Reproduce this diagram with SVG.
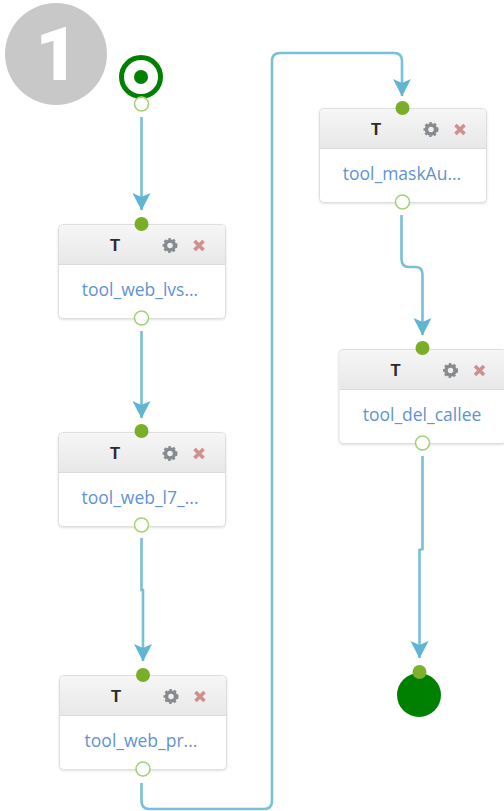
<svg xmlns="http://www.w3.org/2000/svg" width="504" height="811" viewBox="0 0 504 811">
<style>
.card{fill:#fff;stroke:#dedede;stroke-width:1}
.hdr{fill:url(#hg)}
.sep{stroke:#dcdcdc;stroke-width:1}
.t{font:bold 16.500px "Liberation Sans",Arial,sans-serif;fill:#2b2b2b;text-anchor:middle}
.lbl{font:17.500px "Open Sans","Noto Sans",sans-serif;fill:#5f93d3;text-anchor:middle}
.in{fill:#7aad28}
.out{fill:#fff;stroke:#a8d076;stroke-width:1.600}
.c{fill:none;stroke:#78bfd8;stroke-width:2.600}
.gear{fill:none;stroke:#868b8f;stroke-width:3.500}
.gt{fill:none;stroke:#868b8f;stroke-width:2;stroke-dasharray:2.400 2.300}
.x{stroke:#d08f8f;stroke-width:3.600}
</style>
<defs>
<linearGradient id="hg" x1="0" y1="0" x2="0" y2="1"><stop offset="0" stop-color="#f6f6f6"/><stop offset="1" stop-color="#e8e8e8"/></linearGradient>
<filter id="sh" x="-5%" y="-5%" width="110%" height="115%"><feDropShadow dx="0" dy="1" stdDeviation="1" flood-color="#000" flood-opacity=".12"/></filter>
<marker id="ah" markerUnits="userSpaceOnUse" markerWidth="18" markerHeight="19" refX="17" refY="9.500" orient="auto"><path d="M0 .5L17.500 9.500L0 18.500L4 9.500Z" fill="#5fb5d3"/></marker>
<g id="card">
<rect class="card" x=".5" y=".5" width="167" height="94" rx="4" filter="url(#sh)"/>
<path class="hdr" d="M1 40V5Q1 1 5 1H163Q167 1 167 5V40Z"/>
<path class="sep" d="M1 40.500H167"/>
<text class="t" x="57" y="27">T</text>
<circle class="gear" cx="112" cy="21.500" r="4.500"/>
<circle class="gt" cx="112" cy="21.500" r="6.500"/>
<path class="x" d="M136.500 17L145.500 26M145.500 17L136.500 26"/>
</g>
</defs>
<g id="connectors">
<path class="c" marker-end="url(#ah)" d="M141.500 117V210"/>
<path class="c" marker-end="url(#ah)" d="M141.500 331V418"/>
<path class="c" marker-end="url(#ah)" d="M141.500 538V590H143V661"/>
<path class="c" marker-end="url(#ah)" d="M141.500 783V801Q141.500 809 149.500 809H264Q272 809 272 801V61Q272 53 280 53H394Q402 53 402 61V96"/>
<path class="c" marker-end="url(#ah)" d="M401.500 215V259Q401.500 267 409 267H415Q422.500 267 422.500 274V335"/>
<path class="c" marker-end="url(#ah)" d="M422.500 456V549L419.500 550V658"/>
</g>
<g id="badge"><circle cx="56" cy="54" r="51" fill="#c8c8c8"/><text x="57" y="80" font-family="Roboto,Arial,sans-serif" font-weight="900" font-size="75" fill="#fff" text-anchor="middle">1</text></g>
<g id="start"><circle cx="141" cy="77" r="19.500" fill="#fff" stroke="#008000" stroke-width="5"/><circle cx="141" cy="77" r="7" fill="#008000"/><circle class="out" cx="141.500" cy="104" r="7"/></g>
<g id="n1"><use href="#card" x="58" y="224"/><text class="lbl" x="140" y="296">tool_web_lvs...</text><circle class="in" cx="141.500" cy="224" r="7"/><circle class="out" cx="141.500" cy="318" r="7"/></g>
<g id="n2"><use href="#card" x="58" y="432"/><text class="lbl" x="140" y="504">tool_web_l7_...</text><circle class="in" cx="141.500" cy="431" r="7"/><circle class="out" cx="141.500" cy="525" r="7"/></g>
<g id="n3"><use href="#card" x="59" y="675"/><text class="lbl" x="141" y="747">tool_web_pr...</text><circle class="in" cx="143" cy="675" r="7"/><circle class="out" cx="143" cy="769" r="7"/></g>
<g id="n4"><use href="#card" x="319" y="108"/><text class="lbl" x="402" y="180">tool_maskAu...</text><circle class="in" cx="402.500" cy="108" r="7"/><circle class="out" cx="402.500" cy="202" r="7"/></g>
<g id="n5"><use href="#card" x="338.500" y="349"/><text class="lbl" x="422" y="421">tool_del_callee</text><circle class="in" cx="422.500" cy="348" r="7"/><circle class="out" cx="422.500" cy="443" r="7"/></g>
<g id="end"><circle cx="419" cy="695" r="22" fill="#008000"/><circle cx="419.500" cy="672" r="7" fill="#7db02c"/></g>
</svg>
